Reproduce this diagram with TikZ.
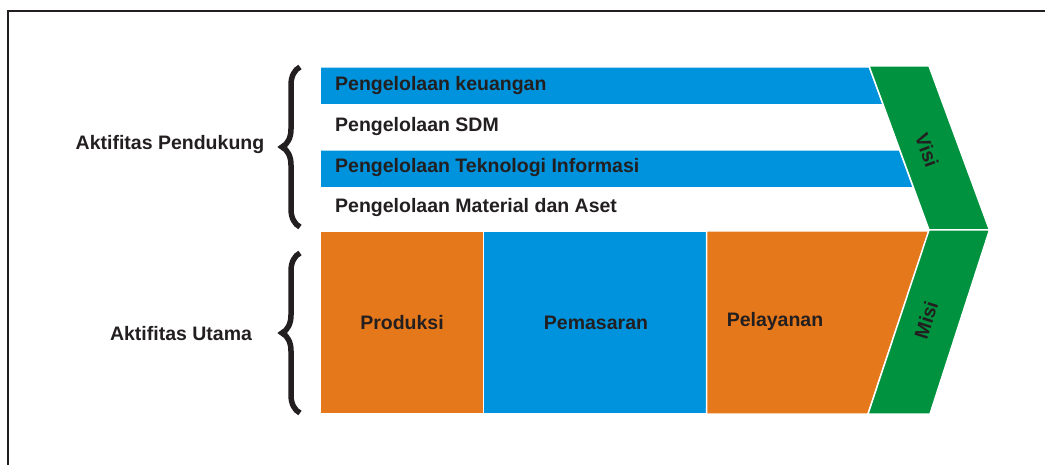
\documentclass[tikz,border=0pt]{standalone}
\usepackage{fontspec}
\setmainfont{Liberation Sans}
\usetikzlibrary{decorations.pathreplacing}
\definecolor{vcblue}{RGB}{0,147,221}
\definecolor{vcorange}{RGB}{229,120,26}
\definecolor{vcgreen}{RGB}{0,146,63}
\definecolor{vcink}{RGB}{35,31,32}
\begin{document}
\begin{tikzpicture}[x=1pt,y=-1pt,
  lbl/.style={font=\fontsize{19.5}{23}\selectfont\bfseries, text=vcink, inner sep=0pt},
  bar/.style={fill=vcblue, draw=white, line width=1.5pt},
  box/.style={fill=vcorange, draw=white, line width=1.5pt},
  band/.style={fill=vcgreen, draw=white, line width=1.5pt},
  curly/.style={decorate, decoration={brace, amplitude=18pt}, line width=5.5pt, draw=vcink}]
\useasboundingbox (0,0) rectangle (1045,465);
\draw[vcink, line width=2.5pt] (8,466) -- (8,11) -- (1046,11);
% support rows
\filldraw[bar] (320,67) -- (869.4,67) -- (883.3,105) -- (320,105) -- cycle;
\filldraw[bar] (320,150) -- (899.7,150) -- (913.6,188) -- (320,188) -- cycle;
% primary boxes
\filldraw[box] (320,231) rectangle (483.5,414);
\filldraw[bar] (483.5,231) rectangle (706.5,414);
\filldraw[box] (706.5,231) -- (929,231) -- (868,414) -- (706.5,414) -- cycle;
% chevron
\filldraw[band] (869,66) -- (929,66) -- (989.5,230) -- (929,230) -- cycle;
\filldraw[band] (929,230) -- (989.5,230) -- (930,414) -- (868,414) -- cycle;
\node[lbl, anchor=west] (keu) at (335,86) {Pengelolaan keuangan};
\node[lbl, anchor=west] (sdm) at (335,127) {Pengelolaan SDM};
\node[lbl, anchor=west] (ti) at (335,168) {Pengelolaan Teknologi Informasi};
\node[lbl, anchor=west] (mat) at (335,208) {Pengelolaan Material dan Aset};
\node[lbl] (prod) at (402,323) {Produksi};
\node[lbl] (pemas) at (596,323) {Pemasaran};
\node[lbl] (pelay) at (775,321) {Pelayanan};
\node[lbl, rotate=-70] (visi) at (927,150) {Visi};
\node[lbl, rotate=72] (misi) at (926,320) {Misi};
% braces
\node[lbl] (pend) at (170,145) {Aktifitas Pendukung};
\node[lbl] (utama) at (181,334) {Aktifitas Utama};
\coordinate (b1top) at (300,67);
\coordinate (b1bot) at (300,227);
\coordinate (b2top) at (300,253);
\coordinate (b2bot) at (300,413);
\draw[curly] (b1bot) -- (b1top);
\draw[curly] (b2bot) -- (b2top);
\end{tikzpicture}
\end{document}
